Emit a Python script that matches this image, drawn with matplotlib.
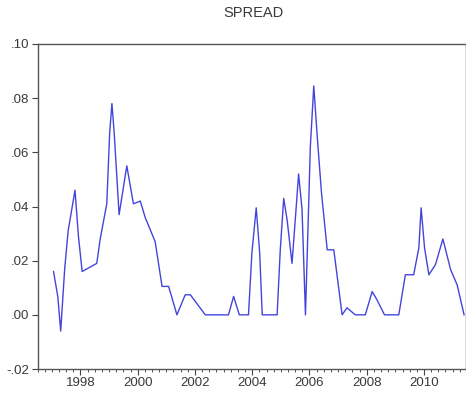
import numpy as np
import matplotlib.pyplot as plt
from matplotlib.ticker import MultipleLocator

# spread series: dates in decimal years, values at each turning point
dates = [1997.06, 1997.21, 1997.31, 1997.45, 1997.57, 1997.81, 1997.93, 1998.06,
         1998.57, 1998.69, 1998.92, 1999.02, 1999.10, 1999.18, 1999.35, 1999.47,
         1999.62, 1999.85, 2000.09, 2000.26, 2000.61, 2000.85, 2001.08, 2001.37,
         2001.66, 2001.84, 2002.36, 2003.17, 2003.35, 2003.55, 2003.87, 2003.99,
         2004.14, 2004.26, 2004.35, 2004.87, 2004.98, 2005.10, 2005.22, 2005.39,
         2005.51, 2005.62, 2005.74, 2005.86, 2006.03, 2006.15, 2006.27, 2006.42,
         2006.62, 2006.85, 2007.14, 2007.31, 2007.60, 2007.95, 2008.19, 2008.36,
         2008.62, 2009.12, 2009.35, 2009.64, 2009.82, 2009.90, 2010.02, 2010.17,
         2010.40, 2010.66, 2010.93, 2011.16, 2011.40]
spread = [0.016, 0.0067, -0.006, 0.017, 0.031, 0.046, 0.029, 0.016,
          0.019, 0.028, 0.041, 0.067, 0.078, 0.067, 0.037, 0.045,
          0.055, 0.041, 0.042, 0.036, 0.027, 0.0105, 0.0105, 0.0,
          0.0074, 0.0074, 0.0, 0.0, 0.0068, 0.0, 0.0, 0.023,
          0.0395, 0.023, 0.0, 0.0, 0.024, 0.043, 0.035, 0.019,
          0.036, 0.052, 0.039, 0.0, 0.062, 0.0845, 0.066, 0.045,
          0.024, 0.024, 0.0, 0.0026, 0.0, 0.0, 0.0086, 0.0055,
          0.0, 0.0, 0.0148, 0.0148, 0.0247, 0.0395, 0.0247, 0.0148,
          0.0185, 0.028, 0.0167, 0.011, 0.0]

y_ticks = [-0.02, 0.0, 0.02, 0.04, 0.06, 0.08, 0.10]
y_labels = ['-.02', '.00', '.02', '.04', '.06', '.08', '.10']
x_years = [1998, 2000, 2002, 2004, 2006, 2008, 2010]

plt.rcParams['font.family'] = ['Liberation Sans', 'DejaVu Sans']
txt = '#3a3a3a'

fig = plt.figure(figsize=(4.66, 3.99), dpi=100)
ax = fig.add_axes([37.5 / 466, 30 / 399, (465.5 - 37.5) / 466, (355 - 30) / 399])

ax.plot(dates, spread, color='#4444dd', lw=1.0)

ax.set_xlim(1996.5, 2011.45)
ax.set_ylim(-0.02, 0.10)

ax.set_yticks(y_ticks)
ax.set_yticklabels(y_labels)
ax.set_xticks(x_years)
ax.set_xticklabels([str(y) for y in x_years])
ax.xaxis.set_minor_locator(MultipleLocator(0.25))

ax.tick_params(axis='both', which='major', direction='out', length=4, width=0.8,
               color='#444444', labelsize=9.5, labelcolor=txt, pad=2)
ax.tick_params(axis='x', which='minor', direction='out', length=2, width=0.7, color='#555555')

for s in ax.spines.values():
    s.set_color('#555555')
    s.set_linewidth(1.0)

fig.text(253 / 466, 1 - 13 / 399, 'SPREAD', ha='center', va='center',
         fontsize=10.5, color=txt)

fig.savefig('out.png', dpi=100)
